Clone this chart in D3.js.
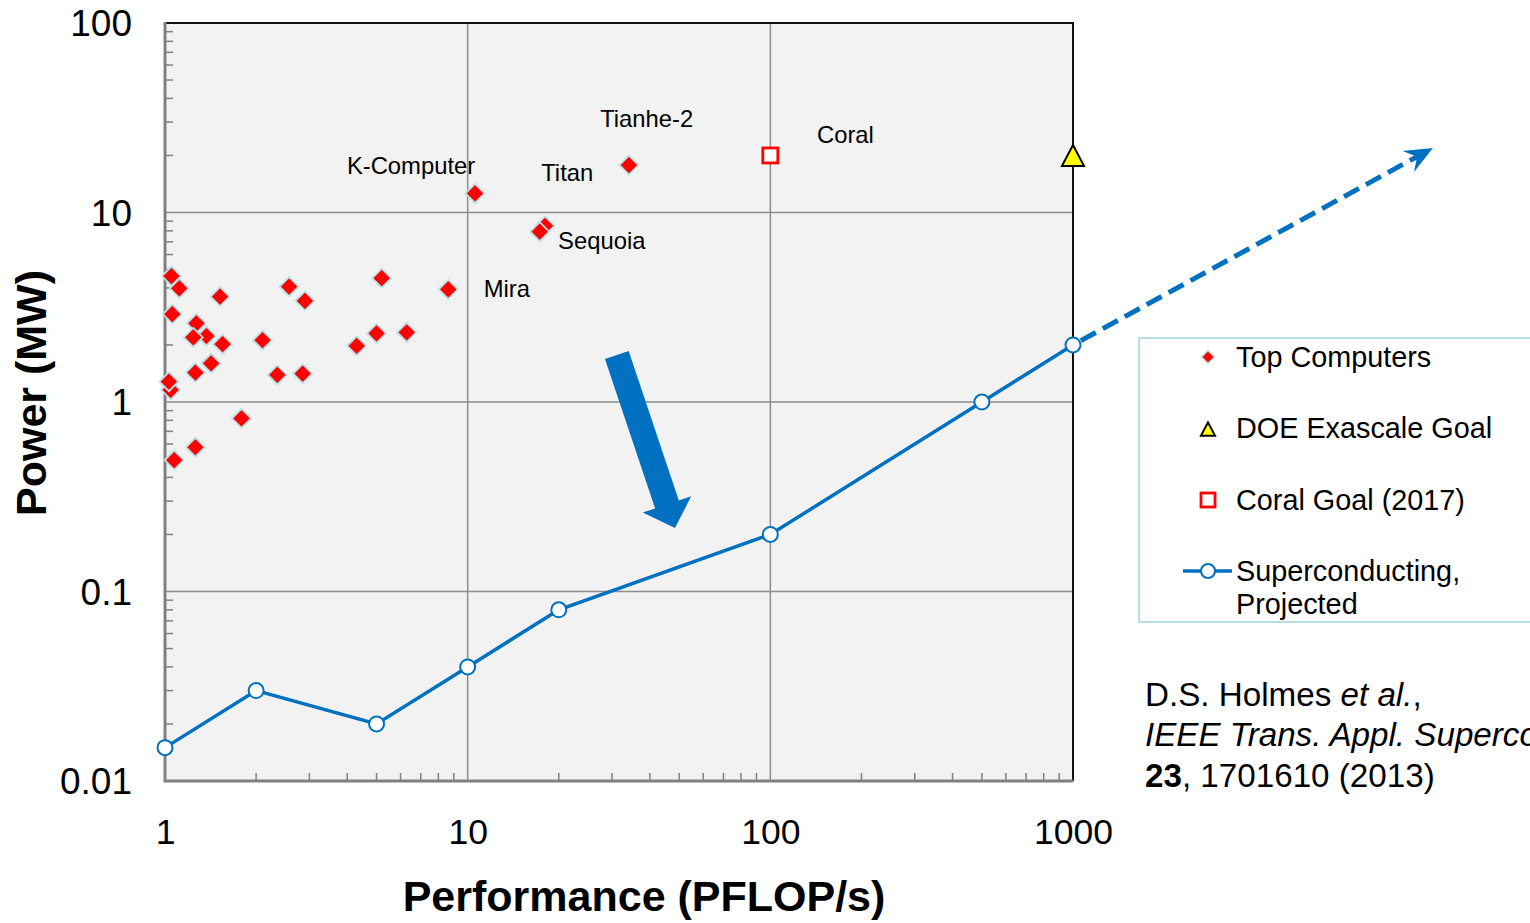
<!DOCTYPE html>
<html>
<head>
<meta charset="utf-8">
<script src="https://cdn.jsdelivr.net/npm/d3@7"></script>
<style>
  html, body { margin: 0; padding: 0; background: #ffffff; }
  svg { display: block; font-family: "Liberation Sans", Arial, sans-serif; }
</style>
</head>
<body>
<svg id="chart" width="1530" height="923"></svg>
<script>
// ---------------- data ----------------
// Top computers (PFLOP/s, MW)
const topX = [1.044, 1.115, 1.05, 1.52, 2.57, 2.90, 1.057, 1.37, 1.27, 1.24, 1.55, 2.10, 1.42, 1.26, 2.35, 2.85,
              1.03, 1.79, 1.26, 1.073, 5.2, 8.63, 5.0, 6.29, 4.30, 10.57, 34.1, 18.0, 17.3];
const topY = [1.16, 3.98, 4.62, 3.6, 4.06, 3.42, 2.91, 2.23, 2.6, 2.19, 2.02, 2.12, 1.6, 1.43, 1.39, 1.41,
              1.28, 0.82, 0.577, 0.494, 4.5, 3.93, 2.3, 2.33, 1.98, 12.6, 17.8, 8.49, 7.92];
// DOE Exascale goal
const doeX = [1000];
const doeY = [20];
// Coral goal (2017)
const coralX = [100];
const coralY = [20];
// Superconducting, projected
const scX = [1, 2, 5, 10, 20, 100, 500, 1000];
const scY = [0.015, 0.03, 0.02, 0.04, 0.08, 0.2, 1, 2];
// projected extension (dashed arrow)
const extX = [1000, 15450];
const extY = [2, 21.9];
// big downward arrow annotation
const bigArrowX = [31.1, 48.4];
const bigArrowY = [1.77, 0.216];
// point labels (text anchor in data coords)
const labelNames = ["K-Computer", "Tianhe-2", "Titan", "Coral", "Sequoia", "Mira"];
const labelX = [3.99, 27.4, 17.5, 142.6, 19.9, 11.3];
const labelY = [15.97, 28.3, 14.7, 23.3, 6.42, 3.58];
// ticks
const xTicks = [1, 10, 100, 1000];
const xTickLabels = ["1", "10", "100", "1000"];
const yTicks = [0.01, 0.1, 1, 10, 100];
const yTickLabels = ["0.01", "0.1", "1", "10", "100"];
const legendLabels = ["Top Computers", "DOE Exascale Goal", "Coral Goal (2017)", "Superconducting,", "Projected"];
const xTitle = "Performance (PFLOP/s)";
const yTitle = "Power (MW)";
const citeLine1 = ["D.S. Holmes ", "et al.", ","];
const citeLine2 = "IEEE Trans. Appl. Supercond.";
const citeLine3 = ["23", ", 1701610 (2013)"];

// ---------------- layout ----------------
const L = 165, R = 1073, T = 23, B = 781;
const svg = d3.select("#chart");
const x = d3.scaleLog().domain([1, 1000]).range([L, R]);
const y = d3.scaleLog().domain([0.01, 100]).range([B, T]);
const blue = "#0070c0";
const font = "'Liberation Sans', Arial, sans-serif";

// plot background
svg.append("rect").attr("x", L).attr("y", T).attr("width", R - L).attr("height", B - T).attr("fill", "#f2f2f2");

// gridlines
const g = svg.append("g");
[10, 100].forEach(v => g.append("line").attr("x1", x(v)).attr("x2", x(v)).attr("y1", T).attr("y2", B)
  .attr("stroke", "#8c8c8c").attr("stroke-width", 1.5));
[0.1, 1, 10].forEach(v => g.append("line").attr("x1", L).attr("x2", R).attr("y1", y(v)).attr("y2", y(v))
  .attr("stroke", "#8c8c8c").attr("stroke-width", 1.5));

// minor ticks
const yMinor = [];
for (let d = 0.01; d < 100; d *= 10) for (let k = 2; k <= 9; k++) yMinor.push(d * k);
yMinor.forEach(v => g.append("line").attr("x1", L).attr("x2", L + 8).attr("y1", y(v)).attr("y2", y(v))
  .attr("stroke", "#808080").attr("stroke-width", 1.5));
const xMinor = [];
for (let d = 1; d < 1000; d *= 10) for (let k = 2; k <= 9; k++) xMinor.push(d * k);
xMinor.forEach(v => g.append("line").attr("x1", x(v)).attr("x2", x(v)).attr("y1", B).attr("y2", B - 8)
  .attr("stroke", "#808080").attr("stroke-width", 1.5));

// frame
svg.append("line").attr("x1", L).attr("x2", R + 1).attr("y1", T).attr("y2", T).attr("stroke", "#111").attr("stroke-width", 2);
svg.append("line").attr("x1", R).attr("x2", R).attr("y1", T).attr("y2", B).attr("stroke", "#111").attr("stroke-width", 2);
svg.append("line").attr("x1", L).attr("x2", L).attr("y1", T - 1).attr("y2", B + 1.5).attr("stroke", "#808080").attr("stroke-width", 3);
svg.append("line").attr("x1", L).attr("x2", R).attr("y1", B).attr("y2", B).attr("stroke", "#808080").attr("stroke-width", 3);

// axes tick labels
const xAxis = d3.axisBottom(x).tickValues(xTicks).tickFormat((d, i) => xTickLabels[i]).tickSize(0).tickPadding(0);
const xa = svg.append("g").attr("transform", `translate(0,${B})`).call(xAxis);
xa.select(".domain").remove();
xa.selectAll("text").attr("font-family", font).attr("font-size", 35.5).attr("fill", "#000")
  .attr("dy", null).attr("y", 63);
const yAxis = d3.axisLeft(y).tickValues(yTicks).tickFormat((d, i) => yTickLabels[i]).tickSize(0).tickPadding(0);
const ya = svg.append("g").attr("transform", `translate(${L - 33},0)`).call(yAxis);
ya.select(".domain").remove();
ya.selectAll("text").attr("font-family", font).attr("font-size", 37).attr("fill", "#000").attr("x", 0).attr("dy", "0.35em");

// axis titles
svg.append("text").attr("x", 644).attr("y", 911).attr("text-anchor", "middle")
  .attr("font-family", font).attr("font-weight", "bold").attr("font-size", 43).text(xTitle);
svg.append("text").attr("transform", `translate(46,${393}) rotate(-90)`).attr("text-anchor", "middle")
  .attr("font-family", font).attr("font-weight", "bold").attr("font-size", 43).text(yTitle);

// superconducting line
const line = d3.line().x(d => x(d[0])).y(d => y(d[1]));
const scData = scX.map((v, i) => [v, scY[i]]);
svg.append("path").datum(scData).attr("d", line).attr("fill", "none").attr("stroke", blue).attr("stroke-width", 3.5);

// dashed extension + arrowhead
const ex0 = [x(extX[0]), y(extY[0])], ex1 = [x(extX[1]), y(extY[1])];
const edx = ex1[0] - ex0[0], edy = ex1[1] - ex0[1], elen = Math.hypot(edx, edy);
const eu = [edx / elen, edy / elen], en = [-eu[1], eu[0]];
svg.append("line").attr("x1", ex0[0] + eu[0] * 9).attr("y1", ex0[1] + eu[1] * 9)
  .attr("x2", ex1[0] - eu[0] * 14).attr("y2", ex1[1] - eu[1] * 14)
  .attr("stroke", blue).attr("stroke-width", 5).attr("stroke-dasharray", "17,8");
const ah = [
  ex1,
  [ex1[0] - eu[0] * 28 + en[0] * 12, ex1[1] - eu[1] * 28 + en[1] * 12],
  [ex1[0] - eu[0] * 18, ex1[1] - eu[1] * 18],
  [ex1[0] - eu[0] * 28 - en[0] * 12, ex1[1] - eu[1] * 28 - en[1] * 12]
];
svg.append("path").attr("d", "M" + ah.map(p => p.join(",")).join("L") + "Z").attr("fill", blue);

// circles of superconducting
svg.append("g").selectAll("circle").data(scData).join("circle")
  .attr("cx", d => x(d[0])).attr("cy", d => y(d[1])).attr("r", 7.5)
  .attr("fill", "#fff").attr("stroke", blue).attr("stroke-width", 2);

// top computers diamonds
const diamond = (cx, cy, r) => `M${cx},${cy - r}L${cx + r},${cy}L${cx},${cy + r}L${cx - r},${cy}Z`;
svg.append("g").selectAll("path").data(topX.map((v, i) => [v, topY[i]])).join("path")
  .attr("d", d => diamond(x(d[0]), y(d[1]), 9.5))
  .attr("fill", "#ff0000").attr("stroke", "#b9e2e6").attr("stroke-width", 1.8);

// Coral square
svg.append("g").selectAll("rect").data(coralX.map((v, i) => [v, coralY[i]])).join("rect")
  .attr("x", d => x(d[0]) - 7.5).attr("y", d => y(d[1]) - 7.5).attr("width", 15).attr("height", 15)
  .attr("fill", "#fff").attr("stroke", "#ff0000").attr("stroke-width", 2.8);

// DOE triangle
const tri = (cx, cy, s) => `M${cx},${cy - s * 0.95}L${cx + s},${cy + s * 0.95}L${cx - s},${cy + s * 0.95}Z`;
svg.append("g").selectAll("path").data(doeX.map((v, i) => [v, doeY[i]])).join("path")
  .attr("d", d => tri(x(d[0]), y(d[1]), 11))
  .attr("fill", "#ffff00").attr("stroke", "#000").attr("stroke-width", 2).attr("stroke-linejoin", "miter");

// big blue arrow
const a0 = [x(bigArrowX[0]), y(bigArrowY[0])], a1 = [x(bigArrowX[1]), y(bigArrowY[1])];
const adx = a1[0] - a0[0], ady = a1[1] - a0[1], alen = Math.hypot(adx, ady);
const au = [adx / alen, ady / alen], an = [-au[1], au[0]];
const sw = 12.5, hw = 25.5, hl = 25;
const hb = [a1[0] - au[0] * hl, a1[1] - au[1] * hl];
const bigPts = [
  [a0[0] + an[0] * sw, a0[1] + an[1] * sw],
  [hb[0] + an[0] * sw, hb[1] + an[1] * sw],
  [hb[0] + an[0] * hw, hb[1] + an[1] * hw],
  a1,
  [hb[0] - an[0] * hw, hb[1] - an[1] * hw],
  [hb[0] - an[0] * sw, hb[1] - an[1] * sw],
  [a0[0] - an[0] * sw, a0[1] - an[1] * sw]
];
svg.append("path").attr("d", "M" + bigPts.map(p => p.join(",")).join("L") + "Z").attr("fill", blue);

// point labels
svg.append("g").selectAll("text").data(labelNames).join("text")
  .attr("x", (d, i) => x(labelX[i])).attr("y", (d, i) => y(labelY[i]))
  .attr("font-family", font).attr("font-size", 23.8).attr("fill", "#000").text(d => d);

// legend
const lg = svg.append("g");
lg.append("rect").attr("x", 1139).attr("y", 338).attr("width", 420).attr("height", 284)
  .attr("fill", "#fff").attr("stroke", "#b7dfe3").attr("stroke-width", 2);
const lx = 1208, ltx = 1236;
const rowsY = [357, 428, 500, 571, 604];
lg.append("path").attr("d", diamond(lx, rowsY[0], 6.5)).attr("fill", "#ff0000").attr("stroke", "#b9e2e6").attr("stroke-width", 1.5);
lg.append("path").attr("d", tri(lx, rowsY[1] + 1, 7)).attr("fill", "#ffff00").attr("stroke", "#000").attr("stroke-width", 2);
lg.append("rect").attr("x", lx - 7).attr("y", rowsY[2] - 7).attr("width", 14).attr("height", 14)
  .attr("fill", "#fff").attr("stroke", "#ff0000").attr("stroke-width", 2.8);
lg.append("line").attr("x1", 1183).attr("x2", 1232).attr("y1", rowsY[3]).attr("y2", rowsY[3]).attr("stroke", blue).attr("stroke-width", 3.5);
lg.append("circle").attr("cx", lx).attr("cy", rowsY[3]).attr("r", 7).attr("fill", "#fff").attr("stroke", blue).attr("stroke-width", 2);
legendLabels.forEach((t, i) => {
  lg.append("text").attr("x", ltx).attr("y", rowsY[i]).attr("dy", "0.36em")
    .attr("font-family", font).attr("font-size", 28.8).attr("fill", "#000").text(t);
});

// citation
const cg = svg.append("g").attr("font-family", font).attr("font-size", 33.2).attr("fill", "#000");
const c1 = cg.append("text").attr("x", 1145).attr("y", 706);
c1.append("tspan").text(citeLine1[0]);
c1.append("tspan").attr("font-style", "italic").text(citeLine1[1]);
c1.append("tspan").text(citeLine1[2]);
cg.append("text").attr("x", 1145).attr("y", 746).attr("font-style", "italic").text(citeLine2);
const c3 = cg.append("text").attr("x", 1145).attr("y", 787);
c3.append("tspan").attr("font-weight", "bold").text(citeLine3[0]);
c3.append("tspan").text(citeLine3[1]);
</script>
</body>
</html>
